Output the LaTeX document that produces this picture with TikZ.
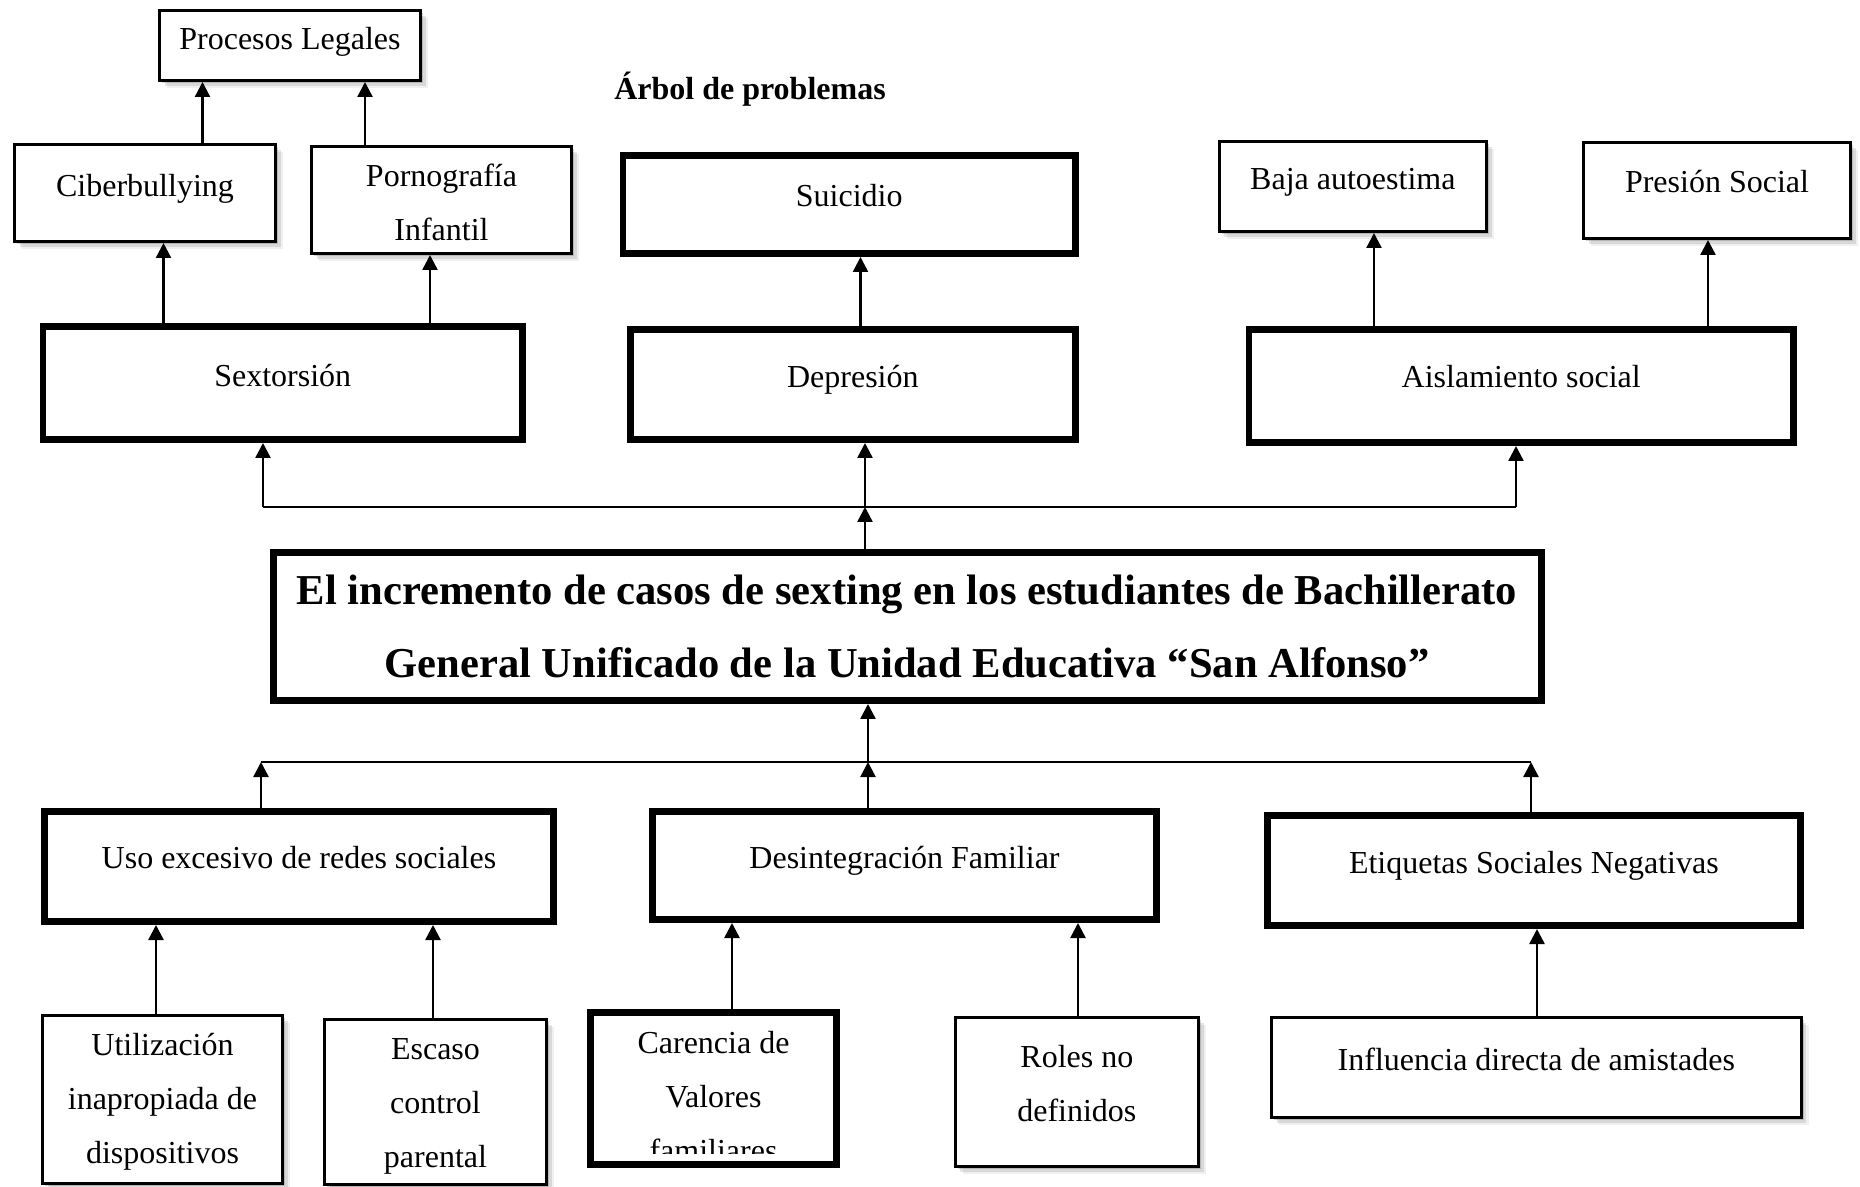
\documentclass[tikz,border=0pt]{standalone}
\usepackage{fontspec}
\setmainfont{Liberation Serif}
\usetikzlibrary{arrows.meta,shadows}
\newcommand\mlines[1]{\begin{tabular}[t]{@{}c@{}}#1\end{tabular}}
\begin{document}
\begin{tikzpicture}[x=0.5pt,y=-0.5pt,
  thinbox/.style={draw, line width=1.5pt, fill=white, inner sep=0pt,
    drop shadow={shadow xshift=1.3pt,shadow yshift=-1.3pt,fill=black,opacity=.16},
    drop shadow={shadow xshift=2.6pt,shadow yshift=-2.6pt,fill=black,opacity=.10},
    drop shadow={shadow xshift=3.9pt,shadow yshift=-3.9pt,fill=black,opacity=.06}},
  thickbox/.style={draw, line width=3.4pt, fill=white, inner sep=0pt},
  txt/.style={font=\fontsize{16}{27}\selectfont, inner sep=0pt, anchor=base},
  ttl/.style={font=\bfseries\fontsize{16}{27}\selectfont, inner sep=0pt, anchor=base},
  mtxt/.style={font=\bfseries\fontsize{21.3}{36}\selectfont, inner sep=0pt, anchor=base},
  arr/.style={-{Triangle[length=7.5pt,width=7.5pt]}, line width=1.2pt},
  ln/.style={line width=1.2pt}]
\useasboundingbox (0,0) rectangle (1860,1187);

% ---------- boxes ----------
\node[thinbox, minimum width=130.5pt, minimum height=35pt] (proc) at (290,45.5) {};
\node[thinbox, minimum width=130.5pt, minimum height=48.5pt] (cib) at (145,193) {};
\node[thinbox, minimum width=130pt, minimum height=53.5pt] (porno) at (441.5,200) {};
\node[thickbox, minimum width=239.85pt, minimum height=56.6pt] (sext) at (282.75,383) {};
\node[thickbox, minimum width=226.35pt, minimum height=49.1pt] (sui) at (849.25,204.5) {};
\node[thickbox, minimum width=222.75pt, minimum height=55.1pt] (dep) at (852.85,384.5) {};
\node[thinbox, minimum width=133.65pt, minimum height=45pt] (baja) at (1352.85,186.5) {};
\node[thinbox, minimum width=133.5pt, minimum height=48pt] (pres) at (1717,190.5) {};
\node[thickbox, minimum width=272.35pt, minimum height=56.6pt] (aisl) at (1521.25,386) {};
\node[thickbox, minimum width=634.1pt, minimum height=74.1pt] (main) at (907.5,626.5) {};
\node[thickbox, minimum width=254.6pt, minimum height=55.1pt] (uso) at (299,866.5) {};
\node[thickbox, minimum width=252.1pt, minimum height=54.1pt] (des) at (904.5,865.5) {};
\node[thickbox, minimum width=266.75pt, minimum height=55.1pt] (etiq) at (1533.85,870.5) {};
\node[thinbox, minimum width=120pt, minimum height=84pt] (util) at (162.5,1099.5) {};
\node[thinbox, minimum width=111pt, minimum height=82.5pt] (esc) at (435.5,1102) {};
\node[thickbox, minimum width=123.1pt, minimum height=76.1pt] (car) at (713.5,1088.5) {};
\node[thinbox, minimum width=121.65pt, minimum height=74.5pt] (roles) at (1076.85,1092) {};
\node[thinbox, minimum width=264.8pt, minimum height=50pt] (infl) at (1536.3,1067.5) {};

% ---------- texts ----------
\node[ttl] (titulo) at (750,100) {Árbol de problemas};
\node[txt] (procT) at (290,50) {Procesos Legales};
\node[txt] (cibT) at (145,197) {Ciberbullying};
\node[txt] (pornoT) at (441.5,187) {\mlines{Pornografía\\Infantil}};
\node[txt] (sextT) at (282.75,387) {Sextorsión};
\node[txt] (suiT) at (849.25,207) {Suicidio};
\node[txt] (depT) at (852.85,388) {Depresión};
\node[txt] (bajaT) at (1352.85,190) {Baja autoestima};
\node[txt] (presT) at (1717,193) {Presión Social};
\node[txt] (aislT) at (1521.25,388) {Aislamiento social};
\node[mtxt] (mainT) at (907,605) {\mlines{El incremento de casos de sexting en los estudiantes de Bachillerato\\General Unificado de la Unidad Educativa “San Alfonso”}};
\node[txt] (usoT) at (299,868) {Uso excesivo de redes sociales};
\node[txt] (desT) at (904.5,868) {Desintegración Familiar};
\node[txt] (etiqT) at (1533.85,873) {Etiquetas Sociales Negativas};
\node[txt] (utilT) at (162.5,1055) {\mlines{Utilización\\inapropiada de\\dispositivos}};
\node[txt] (escT) at (435.5,1059) {\mlines{Escaso\\control\\parental}};
\begin{scope}
  \clip (590,1012) rectangle (837,1153);
  \node[txt] (carT) at (713.5,1053) {\mlines{Carencia de\\Valores\\familiares}};
\end{scope}
\node[txt] (rolesT) at (1076.85,1067) {\mlines{Roles no\\definidos}};
\node[txt] (inflT) at (1536.3,1070) {Influencia directa de amistades};

% ---------- connector columns ----------
\coordinate (a1) at (202.5,0);
\coordinate (a2) at (365,0);
\coordinate (a3) at (163.5,0);
\coordinate (a4) at (430,0);
\coordinate (a5) at (860.5,0);
\coordinate (a6) at (1374,0);
\coordinate (a7) at (1708,0);
\coordinate (a8) at (156,0);
\coordinate (a9) at (433,0);
\coordinate (a10) at (732,0);
\coordinate (a11) at (1078,0);
\coordinate (a12) at (1537,0);

% effects
\draw[arr] (cib.north -| a1) -- (proc.south -| a1);
\draw[arr] (porno.north -| a2) -- (proc.south -| a2);
\draw[arr] (sext.north -| a3) -- (cib.south -| a3);
\draw[arr] (sext.north -| a4) -- (porno.south -| a4);
\draw[arr] (dep.north -| a5) -- (sui.south -| a5);
\draw[arr] (aisl.north -| a6) -- (baja.south -| a6);
\draw[arr] (aisl.north -| a7) -- (pres.south -| a7);

% upper distribution line
\coordinate (tl1) at (263,507);
\coordinate (tl2) at (865,507);
\coordinate (tl3) at (1516,507);
\draw[ln] (tl1) -- (tl3);
\draw[arr] (tl1) -- (tl1 |- sext.south);
\draw[arr] (tl2) -- (tl2 |- dep.south);
\draw[arr] (tl3) -- (tl3 |- aisl.south);
\draw[arr] (tl2 |- main.north) -- (tl2);

% lower collecting line
\coordinate (bl1) at (261,762);
\coordinate (bl2) at (868,762);
\coordinate (bl3) at (1531,762);
\draw[ln] (bl1) -- (bl3);
\draw[arr] (bl1 |- uso.north) -- (bl1);
\draw[arr] (bl2 |- des.north) -- (bl2);
\draw[arr] (bl3 |- etiq.north) -- (bl3);
\draw[arr] (bl2) -- (bl2 |- main.south);

% causes
\draw[arr] (util.north -| a8) -- (uso.south -| a8);
\draw[arr] (esc.north -| a9) -- (uso.south -| a9);
\draw[arr] (car.north -| a10) -- (des.south -| a10);
\draw[arr] (roles.north -| a11) -- (des.south -| a11);
\draw[arr] (infl.north -| a12) -- (etiq.south -| a12);
\end{tikzpicture}
\end{document}
